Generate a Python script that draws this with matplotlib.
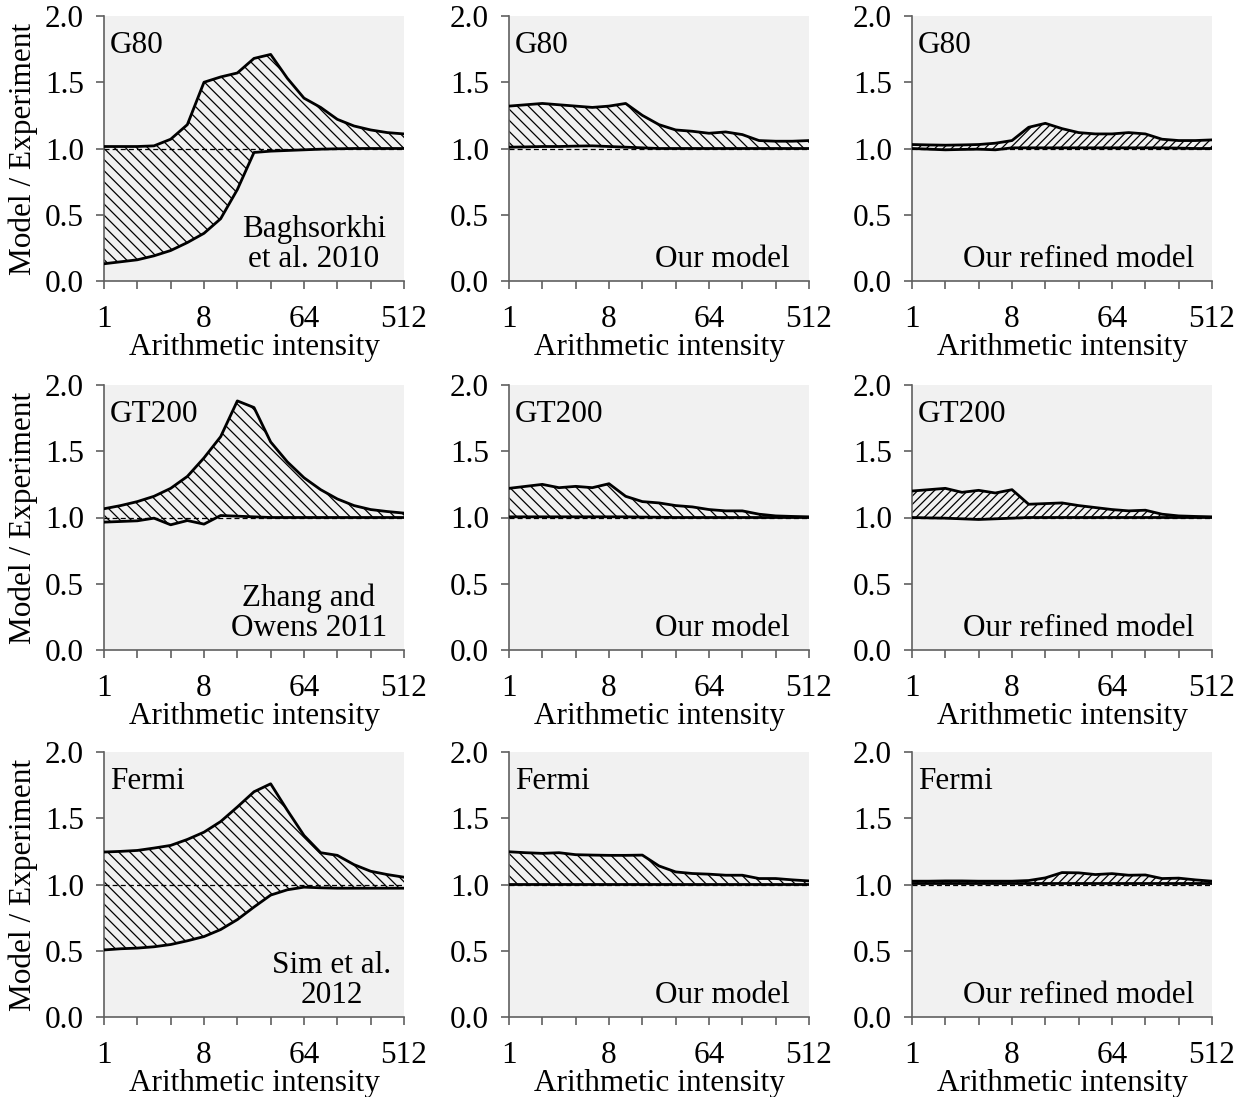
import matplotlib
matplotlib.use("Agg")
import matplotlib.pyplot as plt

plt.rcParams["font.family"] = ["Liberation Serif", "DejaVu Serif"]
plt.rcParams["font.size"] = 22.5
plt.rcParams["hatch.linewidth"] = 0.9

# Arithmetic intensity (flop/byte), half-octave steps from 1 to 512
intensity = [1, 1.414, 2, 2.828, 4, 5.657, 8, 11.31, 16, 22.63, 32,
             45.25, 64, 90.51, 128, 181.0, 256, 362.0, 512]

# ---- G80 ----
g80_prior_hi = [1.015, 1.015, 1.015, 1.02, 1.07, 1.18, 1.50, 1.54, 1.57, 1.68,
                1.71, 1.53, 1.38, 1.31, 1.22, 1.17, 1.14, 1.12, 1.11]
g80_prior_lo = [0.13, 0.145, 0.16, 0.19, 0.23, 0.29, 0.36, 0.47, 0.69, 0.97,
                0.98, 0.985, 0.99, 0.995, 0.998, 1.0, 1.0, 1.0, 1.0]
g80_ours_hi = [1.32, 1.33, 1.34, 1.33, 1.32, 1.31, 1.32, 1.34, 1.25, 1.18,
               1.14, 1.13, 1.115, 1.125, 1.105, 1.06, 1.055, 1.055, 1.06]
g80_ours_lo = [1.01, 1.012, 1.015, 1.015, 1.018, 1.02, 1.015, 1.01, 1.005, 1.0,
               1.0, 1.0, 1.0, 1.0, 1.0, 1.0, 1.0, 1.0, 1.0]
g80_refined_hi = [1.03, 1.027, 1.025, 1.027, 1.03, 1.04, 1.06, 1.16, 1.19, 1.15,
                  1.12, 1.11, 1.11, 1.12, 1.11, 1.07, 1.06, 1.06, 1.065]
g80_refined_lo = [1.0, 0.995, 0.99, 0.993, 0.995, 0.99, 1.005, 1.005, 1.005, 1.005,
                  1.005, 1.005, 1.005, 1.005, 1.005, 1.005, 1.003, 1.0, 1.0]

# ---- GT200 ----
gt200_prior_hi = [1.066, 1.09, 1.12, 1.16, 1.22, 1.31, 1.45, 1.61, 1.88, 1.83,
                  1.57, 1.42, 1.30, 1.21, 1.14, 1.09, 1.06, 1.045, 1.033]
gt200_prior_lo = [0.965, 0.97, 0.975, 0.995, 0.945, 0.977, 0.95, 1.015, 1.01, 1.005,
                  1.0, 1.0, 1.0, 1.0, 1.0, 1.0, 1.0, 1.0, 1.0]
gt200_ours_hi = [1.22, 1.235, 1.25, 1.225, 1.235, 1.225, 1.255, 1.16, 1.12, 1.11,
                 1.09, 1.08, 1.06, 1.05, 1.05, 1.025, 1.012, 1.008, 1.005]
gt200_ours_lo = [1.005, 1.005, 1.005, 1.005, 1.005, 1.005, 1.005, 1.005, 1.003, 1.002,
                 1.0, 1.0, 1.0, 1.0, 1.0, 1.0, 1.0, 1.0, 1.0]
gt200_refined_hi = [1.2, 1.21, 1.22, 1.19, 1.205, 1.185, 1.21, 1.10, 1.105, 1.11,
                    1.09, 1.075, 1.06, 1.05, 1.055, 1.025, 1.012, 1.008, 1.005]
gt200_refined_lo = [1.0, 0.997, 0.995, 0.99, 0.985, 0.99, 0.995, 1.0, 1.0, 1.0,
                    1.0, 1.0, 1.0, 1.0, 1.0, 1.0, 1.0, 1.0, 1.0]

# ---- Fermi ----
fermi_prior_hi = [1.245, 1.25, 1.257, 1.275, 1.295, 1.34, 1.395, 1.475, 1.585, 1.70,
                  1.76, 1.56, 1.37, 1.24, 1.22, 1.15, 1.10, 1.075, 1.055]
fermi_prior_lo = [0.506, 0.515, 0.52, 0.53, 0.547, 0.575, 0.607, 0.66, 0.735, 0.83,
                  0.92, 0.96, 0.98, 0.975, 0.972, 0.972, 0.972, 0.972, 0.972]
fermi_ours_hi = [1.247, 1.24, 1.235, 1.24, 1.225, 1.222, 1.22, 1.22, 1.222, 1.14,
                 1.095, 1.083, 1.078, 1.07, 1.07, 1.045, 1.045, 1.035, 1.027]
fermi_ours_lo = [1.005, 1.005, 1.005, 1.005, 1.005, 1.005, 1.005, 1.005, 1.005, 1.005,
                 1.005, 1.005, 1.005, 1.005, 1.005, 1.005, 1.005, 1.005, 1.005]
fermi_refined_hi = [1.025, 1.025, 1.027, 1.027, 1.025, 1.025, 1.025, 1.03, 1.05, 1.09,
                    1.088, 1.075, 1.082, 1.07, 1.072, 1.045, 1.048, 1.035, 1.025]
fermi_refined_lo = [1.008, 1.008, 1.008, 1.008, 1.008, 1.008, 1.008, 1.008, 1.008, 1.008,
                    1.008, 1.008, 1.008, 1.008, 1.008, 1.008, 1.008, 1.008, 1.008]

gpus = ["G80", "GT200", "Fermi"]
prior_notes = ["Baghsorkhi\net al. 2010", "Zhang and\nOwens 2011", "Sim et al.\n2012"]
prior_note_x = [0.70, 0.683, 0.76]
model_notes = ["Our model", "Our refined model"]
model_note_x = [0.71, 0.557]

bands = [
    [(g80_prior_lo, g80_prior_hi), (g80_ours_lo, g80_ours_hi), (g80_refined_lo, g80_refined_hi)],
    [(gt200_prior_lo, gt200_prior_hi), (gt200_ours_lo, gt200_ours_hi), (gt200_refined_lo, gt200_refined_hi)],
    [(fermi_prior_lo, fermi_prior_hi), (fermi_ours_lo, fermi_ours_hi), (fermi_refined_lo, fermi_refined_hi)],
]

x_ticks = [1, 2, 4, 8, 16, 32, 64, 128, 256, 512]
x_ticklabels = ["1", "", "", "8", "", "", "64", "", "", "512"]
y_ticks = [0.0, 0.5, 1.0, 1.5, 2.0]

W, H = 1245, 1097
fig = plt.figure(figsize=(W / 100, H / 100), dpi=100)

col_left = [104, 509, 912]
row_top = [16, 385, 752]
ax_w, ax_h = 300, 265
axis_gray = "#606060"

for r in range(3):
    for c in range(3):
        ax = fig.add_axes([col_left[c] / W, 1 - (row_top[r] + ax_h) / H, ax_w / W, ax_h / H])
        ax.set_facecolor("#f1f1f1")
        lo, hi = bands[r][c]
        hatch = "////" if c == 2 else "\\\\\\"
        ax.fill_between(intensity, lo, hi, facecolor="none", edgecolor="black",
                        hatch=hatch, linewidth=0, zorder=2)
        ax.axhline(1.0, color="black", lw=0.9, ls=(0, (4, 2.5)), zorder=3)
        ax.plot(intensity, hi, color="black", lw=2.0, zorder=4, solid_joinstyle="round")
        ax.plot(intensity, lo, color="black", lw=2.0, zorder=4, solid_joinstyle="round")

        ax.set_xscale("log", base=2)
        ax.set_xlim(1, 512)
        ax.set_ylim(0, 2)
        ax.set_xticks(x_ticks)
        ax.set_xticklabels(x_ticklabels)
        ax.minorticks_off()
        ax.set_yticks(y_ticks)
        ax.set_yticklabels([f"{v:.1f}" for v in y_ticks])

        for side in ("top", "right"):
            ax.spines[side].set_visible(False)
        for side in ("left", "bottom"):
            ax.spines[side].set_color(axis_gray)
            ax.spines[side].set_linewidth(1.2)
        ax.tick_params(axis="x", direction="out", length=5.5, width=1.2, color=axis_gray, pad=12)
        ax.tick_params(axis="y", direction="out", length=5.5, width=1.2, color=axis_gray, pad=9)

        ax.set_xlabel("Arithmetic intensity", labelpad=-1)
        if c == 0:
            ax.set_ylabel("Model / Experiment", labelpad=5)

        ax.text(0.02, 0.943, gpus[r], transform=ax.transAxes, ha="left", va="top")
        if c == 0:
            ax.text(prior_note_x[r], 0.025, prior_notes[r], transform=ax.transAxes,
                    ha="center", va="bottom", multialignment="center", linespacing=1.05)
        else:
            ax.text(model_note_x[c - 1], 0.025, model_notes[c - 1], transform=ax.transAxes,
                    ha="center", va="bottom")

fig.savefig("out.png", dpi=100)
